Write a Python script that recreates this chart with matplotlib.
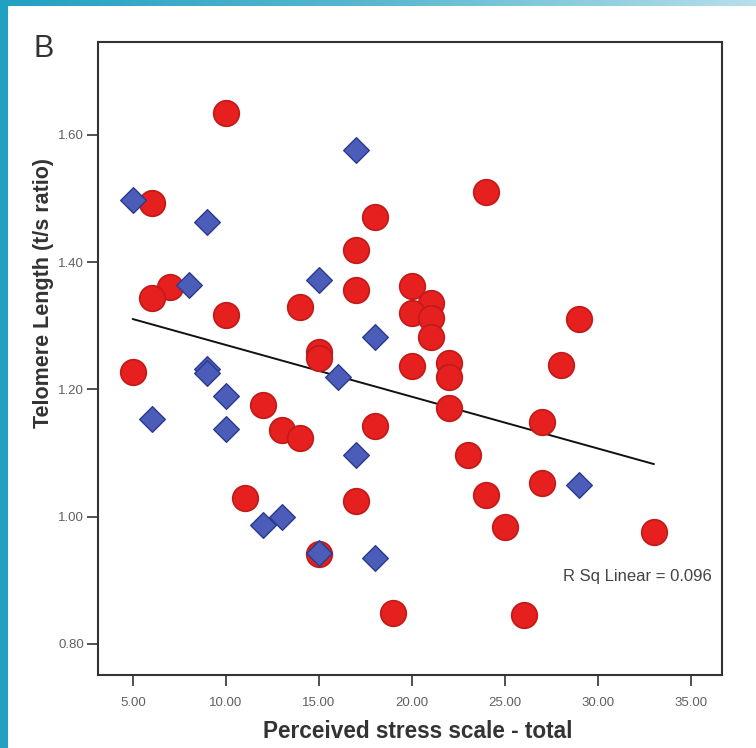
import numpy as np
import matplotlib
matplotlib.use("Agg")
import matplotlib.pyplot as plt
from matplotlib.patches import Rectangle
from matplotlib.colors import LinearSegmentedColormap

plt.rcParams['font.family'] = ['Liberation Sans', 'DejaVu Sans']

# red circles
red_x = [10, 6, 24, 18, 17, 7, 6, 17, 14, 10, 20, 21, 20, 21, 21, 29, 15, 15, 20,
         22, 22, 28, 5, 12, 22, 27, 18, 13, 14, 23, 27, 11, 24, 17, 25, 33, 15, 19, 26]
red_y = [1.635, 1.493, 1.51, 1.471, 1.419, 1.361, 1.344, 1.356, 1.33, 1.317, 1.362,
         1.336, 1.32, 1.312, 1.282, 1.31, 1.259, 1.249, 1.237, 1.241, 1.22, 1.238,
         1.228, 1.175, 1.17, 1.149, 1.143, 1.136, 1.123, 1.097, 1.053, 1.03, 1.034,
         1.025, 0.984, 0.976, 0.941, 0.848, 0.845]

# blue diamonds
blue_x = [17, 5, 9, 8, 15, 18, 9, 9, 16, 10, 6, 10, 17, 29, 13, 12, 15, 18]
blue_y = [1.576, 1.498, 1.463, 1.364, 1.372, 1.283, 1.232, 1.225, 1.22, 1.19, 1.153,
          1.138, 1.097, 1.05, 1.0, 0.986, 0.942, 0.935]

x_ticks = [5, 10, 15, 20, 25, 30, 35]
y_ticks = [0.8, 1.0, 1.2, 1.4, 1.6]
r_sq_label = "R Sq Linear = 0.096"

fig = plt.figure(figsize=(7.56, 7.48), dpi=100)
fig.patch.set_facecolor('white')

# teal frame on the left and a fading strip on top
fig.patches.append(Rectangle((0, 0), 8 / 756, 1, transform=fig.transFigure,
                             facecolor='#21a1c2', edgecolor='none', zorder=0))
top = fig.add_axes([0, 1 - 6 / 748, 1, 6 / 748])
grad = np.linspace(0, 1, 256).reshape(1, -1)
cmap = LinearSegmentedColormap.from_list('edge', ['#21a1c2', '#5bb8d0', '#b6dfea'])
top.imshow(grad, aspect='auto', cmap=cmap)
top.axis('off')

ax = fig.add_axes([98 / 756, 1 - 675 / 748, 624 / 756, 633 / 748])

# linear fit over all points
all_x = np.array(red_x + blue_x, dtype=float)
all_y = np.array(red_y + blue_y, dtype=float)
slope, icpt = np.polyfit(all_x, all_y, 1)
xs = np.array([all_x.min(), all_x.max()])
ax.plot(xs, slope * xs + icpt, color='#111111', lw=1.4, zorder=1)

ax.scatter(red_x, red_y, s=340, marker='o', color='#e6201e', edgecolors='#c11a18',
           linewidths=1.2, zorder=2)
ax.scatter(blue_x, blue_y, s=170, marker='D', color='#4b5cb9', edgecolors='#2b3a8e',
           linewidths=1.0, zorder=3)

ax.set_xlim(3.12, 36.67)
ax.set_ylim(0.751, 1.746)
ax.set_xticks(x_ticks)
ax.set_xticklabels(['%.2f' % v for v in x_ticks])
ax.set_yticks(y_ticks)
ax.set_yticklabels(['%.2f' % v for v in y_ticks])
ax.tick_params(direction='out', length=8, width=1.2, color='#333333',
               labelsize=9.5, labelcolor='#606060')
ax.tick_params(axis='x', pad=8)
ax.tick_params(axis='y', pad=2)
for sp in ax.spines.values():
    sp.set_linewidth(1.5)
    sp.set_color('#333333')

fig.text(418 / 756, 1 - 731 / 748, 'Perceived stress scale - total', fontsize=16.3,
         fontweight='bold', color='#333333', ha='center', va='center')
fig.text(44 / 756, 1 - 293 / 748, 'Telomere Length (t/s ratio)', fontsize=15.5,
         fontweight='bold', color='#333333', ha='center', va='center', rotation=90)

ax.text(0.745, 0.155, r_sq_label, transform=ax.transAxes, fontsize=12,
        color='#444444', ha='left', va='center')
fig.text(33 / 756, 1 - 49 / 748, 'B', fontsize=22, color='#333333', ha='left', va='center')

fig.savefig('out.png', dpi=100)
